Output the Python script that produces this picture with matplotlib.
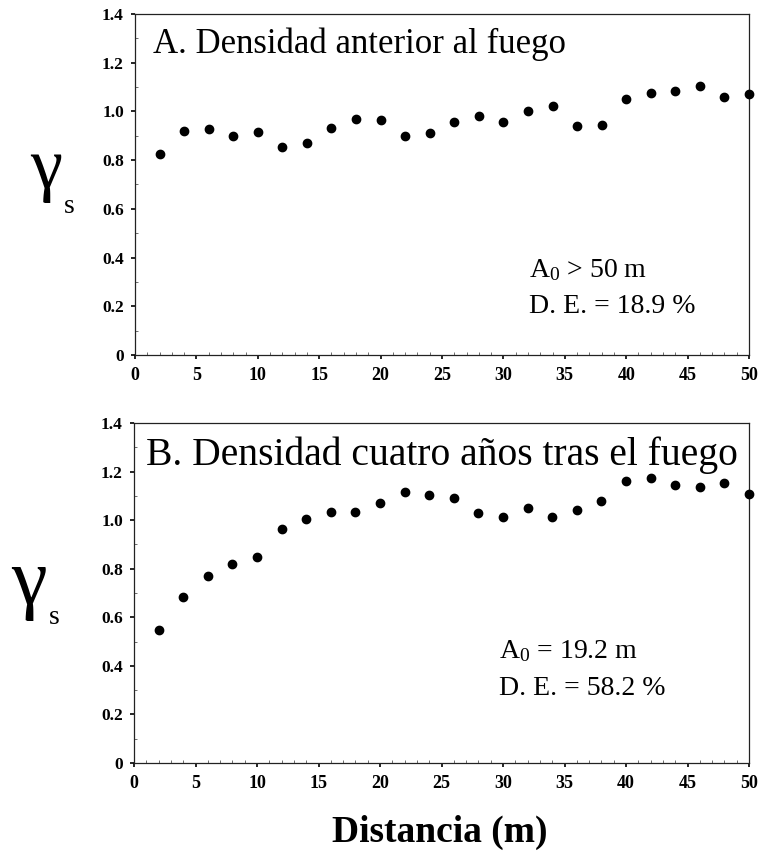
import matplotlib
matplotlib.use("Agg")
import matplotlib.pyplot as plt
from matplotlib.ticker import MultipleLocator

plt.rcParams['font.family'] = ['Liberation Serif', 'DejaVu Serif']
plt.rcParams['mathtext.fontset'] = 'custom'
plt.rcParams['mathtext.rm'] = 'Liberation Serif'
plt.rcParams['mathtext.it'] = 'Liberation Serif:italic'

# ---- data ----
distance = [2, 4, 6, 8, 10, 12, 14, 16, 18, 20, 22, 24, 26, 28, 30,
            32, 34, 36, 38, 40, 42, 44, 46, 48, 50]
gamma_before = [0.827, 0.920, 0.927, 0.900, 0.914, 0.856, 0.872, 0.932, 0.970,
                0.963, 0.900, 0.910, 0.958, 0.983, 0.956, 1.000, 1.024, 0.940,
                0.943, 1.050, 1.077, 1.085, 1.105, 1.058, 1.070]
gamma_after = [0.547, 0.683, 0.770, 0.820, 0.850, 0.962, 1.003, 1.032, 1.035,
               1.072, 1.116, 1.104, 1.090, 1.030, 1.014, 1.050, 1.014, 1.040,
               1.080, 1.160, 1.175, 1.143, 1.138, 1.154, 1.108]
xticks = [0, 5, 10, 15, 20, 25, 30, 35, 40, 45, 50]
yticks = [0, 0.2, 0.4, 0.6, 0.8, 1.0, 1.2, 1.4]
ytick_labels = ['0', '0.2', '0.4', '0.6', '0.8', '1.0', '1.2', '1.4']
titles = ['A. Densidad anterior al fuego', 'B. Densidad cuatro años tras el fuego']
notes = [('$\\mathrm{A_{0}}$ > 50 m', 'D. E. = 18.9 %'),
         ('$\\mathrm{A_{0}}$ = 19.2 m', 'D. E. = 58.2 %')]
xlabel = 'Distancia (m)'

W, H = 760, 858
fig = plt.figure(figsize=(W / 100, H / 100), dpi=100)
fig.patch.set_facecolor('white')


def px_axes(l, t, r, b):
    return [l / W, 1 - b / H, (r - l) / W, (b - t) / H]


ax1 = fig.add_axes(px_axes(135, 14, 749, 355))
ax2 = fig.add_axes(px_axes(134, 423, 749, 763))

title_sizes = [25, 28.5]
title_x = [0.03, 0.02]
title_y = [0.886, 0.875]
note_pos = [(0.642, 0.229, 0.123), (0.593, 0.309, 0.200)]

for i, (ax, data) in enumerate(zip([ax1, ax2], [gamma_before, gamma_after])):
    ax.plot(distance, data, 'o', color='black', markersize=6, clip_on=False,
            zorder=5)
    ax.set_xlim(0, 50)
    ax.set_ylim(0, 1.4)
    ax.set_xticks(xticks)
    ax.set_xticklabels([str(v) for v in xticks])
    ax.set_yticks(yticks)
    ax.set_yticklabels(ytick_labels)
    ax.xaxis.set_minor_locator(MultipleLocator(1))
    ax.yaxis.set_minor_locator(MultipleLocator(0.1))
    ax.tick_params(axis='both', which='major', direction='out', length=3,
                   width=1.2, color='black')
    ax.tick_params(axis='both', which='minor', direction='in', length=2,
                   width=0.6, color='#555555')
    ax.tick_params(axis='x', which='major', pad=6, labelsize=13)
    ax.tick_params(axis='y', which='major', pad=5, labelsize=12.5)
    for lab in ax.get_xticklabels() + ax.get_yticklabels():
        lab.set_fontweight('bold')
    for sp in ax.spines.values():
        sp.set_linewidth(0.9)
        sp.set_color('#222222')
    ax.text(title_x[i], title_y[i], titles[i], transform=ax.transAxes,
            fontsize=title_sizes[i], ha='left', va='baseline')
    nx, ny1, ny2 = note_pos[i]
    ax.text(nx, ny1, notes[i][0], transform=ax.transAxes, fontsize=20,
            ha='left', va='baseline')
    ax.text(nx, ny2, notes[i][1], transform=ax.transAxes, fontsize=20,
            ha='left', va='baseline')


def ftext(xp, yp, s, **kw):
    fig.text(xp / W, 1 - yp / H, s, **kw)


# y-axis labels (gamma_s)
ftext(30, 188, 'γ', fontsize=52, ha='left', va='baseline')
ftext(64, 213, 's', fontsize=20, ha='left', va='baseline')
ftext(11, 604, 'γ', fontsize=58, ha='left', va='baseline')
ftext(49, 624, 's', fontsize=20, ha='left', va='baseline')

ftext(440, 842, xlabel, fontsize=27, fontweight='bold', ha='center',
      va='baseline')

fig.savefig('out.png', dpi=100, facecolor='white')
